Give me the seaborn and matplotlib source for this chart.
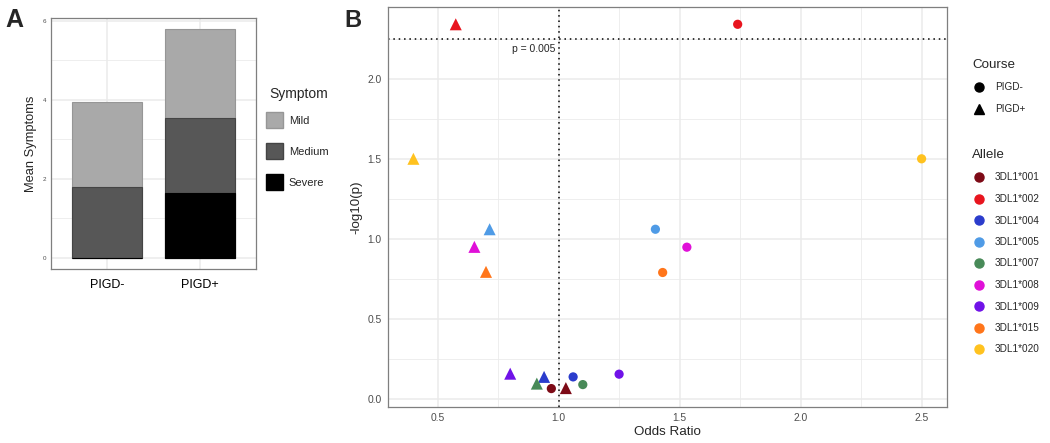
import pandas as pd
import matplotlib
matplotlib.use("Agg")
import matplotlib.pyplot as plt
from matplotlib.lines import Line2D
from matplotlib.patches import Patch
from matplotlib.ticker import MultipleLocator
import seaborn as sns

# Panel A: mean symptoms per course, stacked by severity
courses = ["PIGD-", "PIGD+"]
severe = [0.0, 1.63]
medium = [1.78, 1.90]
mild = [2.17, 2.25]
symptom_colors = {"Mild": "#a9a9a9", "Medium": "#575757", "Severe": "#000000"}

# Panel B: odds ratio and -log10(p) per allele and course
alleles = ["3DL1*001", "3DL1*002", "3DL1*004", "3DL1*005", "3DL1*007",
           "3DL1*008", "3DL1*009", "3DL1*015", "3DL1*020"]
or_neg = [0.97, 1.74, 1.06, 1.40, 1.10, 1.53, 1.25, 1.43, 2.50]
logp_neg = [0.065, 2.34, 0.138, 1.06, 0.09, 0.948, 0.155, 0.79, 1.50]
or_pos = [1.03, 0.575, 0.94, 0.715, 0.91, 0.652, 0.80, 0.70, 0.40]
logp_pos = [0.068, 2.34, 0.138, 1.06, 0.096, 0.95, 0.158, 0.794, 1.50]
allele_colors = ["#7d0a16", "#e8141e", "#2b3ccc", "#4f9be6", "#488a58",
                 "#e010d8", "#7012e8", "#ff751a", "#ffc21f"]
p_cut = 2.25

sns.set_style("white")
plt.rcParams["font.family"] = ["Liberation Sans", "DejaVu Sans"]

grid_col = "#ebebeb"
border_col = "#7f7f7f"
tick_col = "#4d4d4d"

fig = plt.figure(figsize=(10.5, 4.43), dpi=100)

# ---------- Panel A ----------
axA = fig.add_axes([51 / 1050, 1 - 269 / 443, 205 / 1050, 251 / 443])
dfA = pd.DataFrame({"Course": courses,
                    "Severe": severe,
                    "Medium": [s + m for s, m in zip(severe, medium)],
                    "Mild": [s + m + l for s, m, l in zip(severe, medium, mild)]})
edges = {"Mild": "#969696", "Medium": "#444444", "Severe": "#000000"}
for level in ["Mild", "Medium", "Severe"]:
    sns.barplot(data=dfA, x="Course", y=level, ax=axA, width=0.75,
                color=symptom_colors[level], edgecolor=edges[level],
                linewidth=0.8, saturation=1, errorbar=None)
axA.set_xlim(-0.6, 1.6)
axA.set_ylim(-0.29, 6.07)
axA.yaxis.set_major_locator(MultipleLocator(2))
axA.yaxis.set_minor_locator(MultipleLocator(1))
axA.grid(True, which="major", color=grid_col, lw=1.1)
axA.grid(True, which="minor", axis="y", color=grid_col, lw=0.6)
axA.set_axisbelow(True)
axA.set_xlabel("")
axA.set_ylabel("Mean Symptoms", fontsize=9.3, labelpad=4)
axA.tick_params(axis="y", labelsize=4.5, colors=tick_col, length=2, width=0.6, pad=1.5)
axA.tick_params(axis="x", labelsize=9, labelcolor="black", color=tick_col, length=2, width=0.6, pad=5)
axA.tick_params(which="minor", length=0)
for sp in axA.spines.values():
    sp.set_color(border_col)
    sp.set_linewidth(0.9)

handlesA = [Patch(facecolor=symptom_colors[k], edgecolor=edges[k], label=k)
            for k in ["Mild", "Medium", "Severe"]]
fig.legend(handles=handlesA, loc="upper left",
           bbox_to_anchor=(256 / 1050, 1 - 102 / 443), frameon=False,
           fontsize=8, handlelength=1.55, handleheight=1.9,
           labelspacing=1.3, handletextpad=0.5)
fig.text(269 / 1050, 1 - 94 / 443, "Symptom", fontsize=10, va="center")

fig.text(5 / 1050, 1 - 27 / 443, "A", fontsize=18, fontweight="bold")

# ---------- Panel B ----------
axB = fig.add_axes([388 / 1050, 1 - 407 / 443, 559 / 1050, 400 / 443])
dfB_neg = pd.DataFrame({"Allele": alleles, "OR": or_neg, "logp": logp_neg})
dfB_pos = pd.DataFrame({"Allele": alleles, "OR": or_pos, "logp": logp_pos})
pal = dict(zip(alleles, allele_colors))

axB.axhline(p_cut, color="black", ls=(0, (1, 2.5)), lw=1.1, zorder=1)
axB.axvline(1.0, color="black", ls=(0, (1, 2.5)), lw=1.1, zorder=1)
sns.scatterplot(data=dfB_neg, x="OR", y="logp", hue="Allele", hue_order=alleles,
                palette=pal, marker="o", s=44, linewidth=0, legend=False, ax=axB, zorder=3)
sns.scatterplot(data=dfB_pos, x="OR", y="logp", hue="Allele", hue_order=alleles,
                palette=pal, marker="^", s=75, linewidth=0, legend=False, ax=axB, zorder=3)
axB.text(0.985, p_cut - 0.035, "p = 0.005", ha="right", va="top", fontsize=7.5)

axB.set_xlim(0.295, 2.605)
axB.set_ylim(-0.05, 2.448)
axB.xaxis.set_major_locator(MultipleLocator(0.5))
axB.xaxis.set_minor_locator(MultipleLocator(0.25))
axB.yaxis.set_major_locator(MultipleLocator(0.5))
axB.yaxis.set_minor_locator(MultipleLocator(0.25))
axB.grid(True, which="major", color=grid_col, lw=1.1)
axB.grid(True, which="minor", color=grid_col, lw=0.6)
axB.set_axisbelow(True)
axB.set_xlabel("Odds Ratio", fontsize=9.6, labelpad=2)
axB.set_ylabel("-log10(p)", fontsize=9.6, labelpad=4)
axB.tick_params(axis="both", labelsize=7.4, colors=tick_col, length=2.5, width=0.6, pad=2)
axB.tick_params(which="minor", length=0)
for lab in axB.get_xticklabels() + axB.get_yticklabels():
    lab.set_color(tick_col)
for sp in axB.spines.values():
    sp.set_color(border_col)
    sp.set_linewidth(0.9)

handlesC = [Line2D([], [], ls="", marker="o", color="black", markersize=6.5, label="PIGD-"),
            Line2D([], [], ls="", marker="^", color="black", markersize=7.5, label="PIGD+")]
fig.legend(handles=handlesC, title="Course", loc="upper left",
           bbox_to_anchor=(963 / 1050, 1 - 50 / 443), frameon=False,
           fontsize=7.2, title_fontsize=9.6, handlelength=1.4,
           labelspacing=1.15, handletextpad=0.9, alignment="left")

handlesAl = [Line2D([], [], ls="", marker="o", color=c, markersize=6.5, label=a)
             for a, c in zip(alleles, allele_colors)]
fig.legend(handles=handlesAl, title="Allele", loc="upper left",
           bbox_to_anchor=(963 / 1050, 1 - 140 / 443), frameon=False,
           fontsize=7.2, title_fontsize=9.6, handlelength=1.4,
           labelspacing=1.15, handletextpad=0.9, alignment="left")

fig.text(344 / 1050, 1 - 27 / 443, "B", fontsize=17, fontweight="bold")

fig.savefig("out.png", dpi=100)
